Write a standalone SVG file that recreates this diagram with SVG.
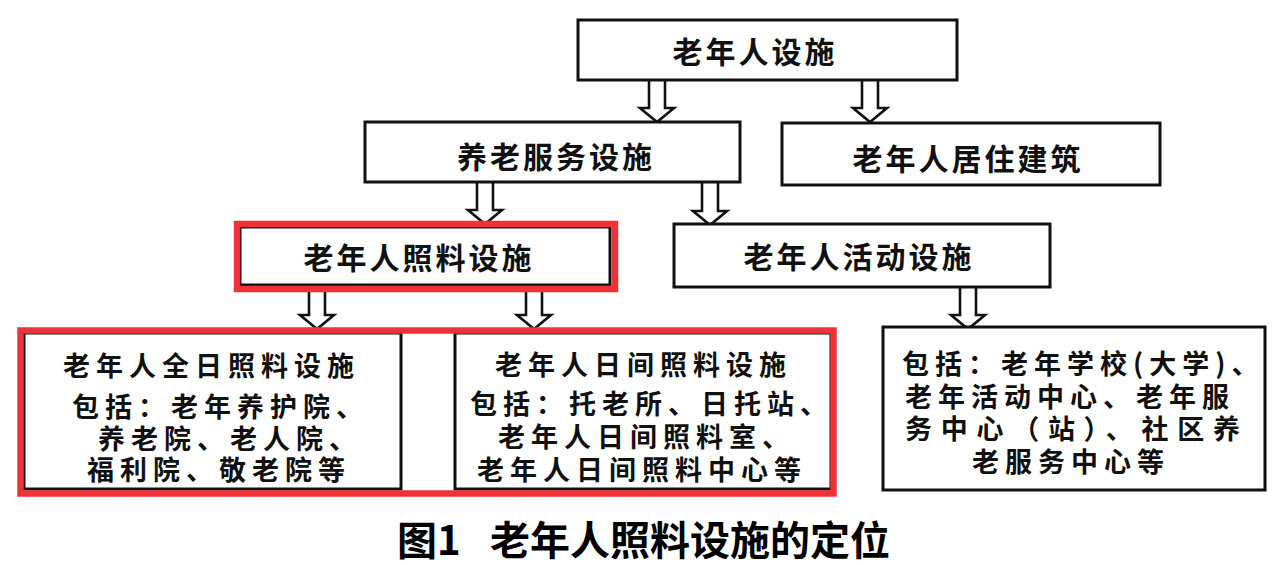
<svg xmlns="http://www.w3.org/2000/svg" width="1288" height="565" viewBox="0 0 1288 565">
<style>
.box{fill:#fff;stroke:#111;stroke-width:3}
.red{fill:none;stroke:#EE3338;stroke-width:6.5}
.t{font-family:"Noto Sans CJK SC","Noto Sans",sans-serif;font-weight:700;fill:#111;dominant-baseline:central}
.h{font-size:30px;letter-spacing:3px;text-anchor:middle}
.b{font-size:27px;letter-spacing:6px}
.arrow{fill:#fff;stroke:#111;stroke-width:2.6;stroke-linejoin:miter}
.cap{font-family:"Noto Sans CJK SC","Noto Sans",sans-serif;font-weight:700;font-size:40px;fill:#000;dominant-baseline:central}
</style>
<defs>
<path id="arr" class="arrow" d="M-8,0 L-8,28 L-17,28 L0,42 L17,28 L8,28 L8,0"/>
</defs>
<rect width="1288" height="565" fill="#fff"/>
<g id="connectors">
<use href="#arr" transform="translate(657,80)"/>
<use href="#arr" transform="translate(870,80)"/>
<use href="#arr" transform="translate(485,182)"/>
<use href="#arr" transform="translate(710,183)"/>
<use href="#arr" transform="translate(317,287)"/>
<use href="#arr" transform="translate(534,287)"/>
<use href="#arr" transform="translate(968,287)"/>
</g>
<g id="n1"><rect class="box" x="578" y="20" width="379" height="60"/><text class="t h" x="755" y="50">老年人设施</text></g>
<g id="n2"><rect class="box" x="365" y="122" width="375" height="60"/><text class="t h" x="556" y="155">养老服务设施</text></g>
<g id="n3"><rect class="box" x="782" y="123" width="378" height="62"/><text class="t h" x="968" y="157">老年人居住建筑</text></g>
<g id="n4"><rect class="box" x="240" y="227" width="370" height="58"/><text class="t h" x="419" y="256">老年人照料设施</text></g>
<g id="n5"><rect class="box" x="674" y="224" width="376" height="63"/><text class="t h" x="859" y="255">老年人活动设施</text></g>
<g id="n6"><rect class="box" x="24" y="333" width="377" height="156"/>
<text class="t b" x="63" y="364">老年人全日照料设施</text>
<text class="t b" x="72" y="405">包括：老年养护院、</text>
<text class="t b" x="98" y="437">养老院、老人院、</text>
<text class="t b" x="87" y="468">福利院、敬老院等</text></g>
<g id="n7"><rect class="box" x="455" y="333" width="376" height="156"/>
<text class="t b" x="495" y="363">老年人日间照料设施</text>
<text class="t b" x="470" y="402">包括：托老所、日托站、</text>
<text class="t b" x="498" y="435">老年人日间照料室、</text>
<text class="t b" x="477" y="468">老年人日间照料中心等</text></g>
<g id="n8"><rect class="box" x="883" y="327" width="382" height="163"/>
<text class="t b" x="902" y="362">包括：老年学校(大学)、</text>
<text class="t b" x="905" y="395">老年活动中心、老年服</text>
<text class="t b" x="905" y="427" textLength="335" lengthAdjust="spacing" style="letter-spacing:0">务中心（站）、社区养</text>
<text class="t b" x="972" y="460">老服务中心等</text></g>
<g id="highlights">
<rect class="red" x="237" y="224" width="378" height="65"/>
<rect class="red" x="20.5" y="330.5" width="813" height="163"/>
</g>
<g id="caption"><text class="cap" x="397" y="538">图1</text><text class="cap" x="490" y="538">老年人照料设施的定位</text></g>
</svg>
